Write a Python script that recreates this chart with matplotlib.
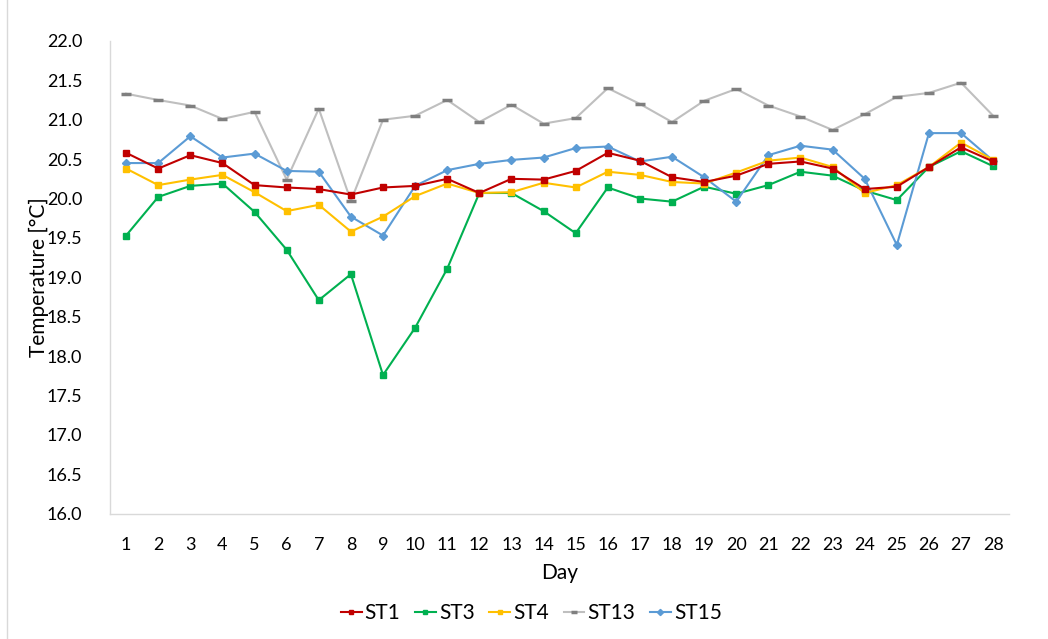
import numpy as np
import matplotlib
matplotlib.use("Agg")
import matplotlib.pyplot as plt
from matplotlib.lines import Line2D

plt.rcParams['font.family'] = ['Lato', 'DejaVu Sans']

days = list(range(1, 29))

st1 = [20.58, 20.38, 20.55, 20.45, 20.17, 20.14, 20.12, 20.05, 20.14, 20.16,
       20.25, 20.07, 20.25, 20.24, 20.35, 20.58, 20.48, 20.27, 20.21, 20.29,
       20.44, 20.47, 20.38, 20.12, 20.15, 20.40, 20.65, 20.47]
st3 = [19.53, 20.02, 20.16, 20.19, 19.83, 19.35, 18.71, 19.04, 17.76, 18.36,
       19.11, 20.07, 20.07, 19.84, 19.56, 20.14, 20.00, 19.96, 20.15, 20.06,
       20.17, 20.34, 20.29, 20.10, 19.98, 20.40, 20.60, 20.41]
st4 = [20.38, 20.17, 20.24, 20.30, 20.08, 19.84, 19.92, 19.58, 19.77, 20.03,
       20.19, 20.07, 20.08, 20.20, 20.14, 20.34, 20.30, 20.21, 20.19, 20.33,
       20.48, 20.52, 20.40, 20.07, 20.17, 20.40, 20.71, 20.49]
st13 = [21.33, 21.25, 21.18, 21.01, 21.10, 20.24, 21.14, 19.97, 21.00, 21.05,
        21.25, 20.97, 21.19, 20.95, 21.02, 21.40, 21.20, 20.97, 21.24, 21.39,
        21.18, 21.04, 20.87, 21.07, 21.29, 21.34, 21.47, 21.05]
st15 = [20.45, 20.45, 20.79, 20.52, 20.57, 20.35, 20.34, 19.77, 19.53, 20.16,
        20.36, 20.44, 20.49, 20.52, 20.64, 20.66, 20.47, 20.53, 20.27, 19.96,
        20.55, 20.67, 20.62, 20.25, 19.41, 20.83, 20.83, 20.48]

fig = plt.figure(figsize=(10.48, 6.39), dpi=100)
ax = fig.add_axes([0.105, 0.196, 0.858, 0.740])

x = np.arange(len(days))
ax.plot(x, st1, color='#C00000', lw=1.5, marker='s', ms=5, label='ST1', zorder=5)
ax.plot(x, st3, color='#00B050', lw=1.5, marker='s', ms=4, label='ST3', zorder=3)
ax.plot(x, st4, color='#FFC000', lw=1.5, marker='s', ms=5, label='ST4', zorder=4)
ax.plot(x, st13, color='#BFBFBF', lw=1.5, marker='_', ms=7, mew=2.5,
        mec='#7F7F7F', label='ST13', zorder=2)
ax.plot(x, st15, color='#5B9BD5', lw=1.5, marker='D', ms=4.5, label='ST15', zorder=3)

ax.set_xlim(-0.5, len(days) - 0.5)
ax.set_ylim(16.0, 22.0)
ax.set_xticks(x)
ax.set_xticklabels([str(d) for d in days])
ax.set_yticks(np.arange(16.0, 22.01, 0.5))
ax.set_yticklabels([f"{v:.1f}" for v in np.arange(16.0, 22.01, 0.5)])
ax.tick_params(axis='both', length=0, labelsize=13, colors='#000000')
ax.tick_params(axis='x', pad=17)
ax.tick_params(axis='y', pad=20)

for s in ['top', 'right']:
    ax.spines[s].set_visible(False)
for s in ['left', 'bottom']:
    ax.spines[s].set_color('#D9D9D9')
    ax.spines[s].set_linewidth(1)

ax.set_xlabel('Day', fontsize=15, labelpad=7)
ax.set_ylabel('Temperature [°C]', fontsize=15, labelpad=-2)

handles, labels = ax.get_legend_handles_labels()
fig.legend(handles, labels, loc='center', bbox_to_anchor=(0.507, 0.04), ncol=5,
           frameon=False, fontsize=15, handlelength=1.0, handletextpad=0.15,
           columnspacing=0.7, markerscale=0.7)

fig.add_artist(Line2D([0.007, 0.007], [0, 1], transform=fig.transFigure,
                      color='#D9D9D9', lw=1))

fig.savefig('out.png', dpi=100)
